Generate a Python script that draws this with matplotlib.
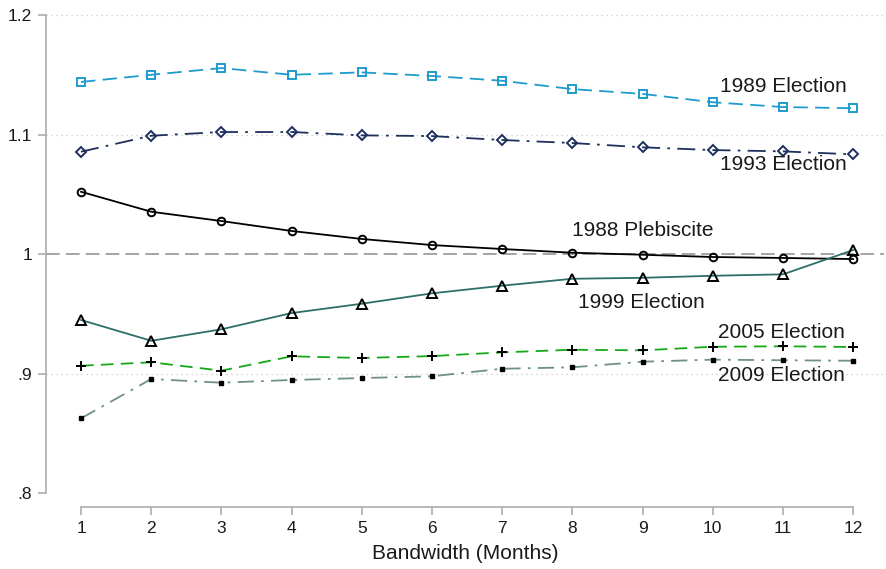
import numpy as np
from matplotlib import pyplot as plt

plt.rcParams['font.family'] = ['Liberation Sans', 'DejaVu Sans']

bandwidth = list(range(1, 13))

e1989 = [1.144, 1.150, 1.1556, 1.150, 1.152, 1.149, 1.145, 1.138, 1.134, 1.127, 1.123, 1.122]
e1993 = [1.0856, 1.0990, 1.1021, 1.1021, 1.0993, 1.0987, 1.0954, 1.0929, 1.0893, 1.0870, 1.0859, 1.0834]
p1988 = [1.0521, 1.0354, 1.0276, 1.0193, 1.0126, 1.0075, 1.0042, 1.0011, 0.9994, 0.9975, 0.9967, 0.9958]
e1999 = [0.9448, 0.9274, 0.9370, 0.9506, 0.9584, 0.9671, 0.9735, 0.9793, 0.9801, 0.9818, 0.9830, 1.0033]
e2005 = [0.9065, 0.9094, 0.9024, 0.9144, 0.9130, 0.9146, 0.9177, 0.9199, 0.9194, 0.9224, 0.9228, 0.9222]
e2009 = [0.8625, 0.8954, 0.8923, 0.8946, 0.8962, 0.8977, 0.9040, 0.9052, 0.9099, 0.9116, 0.9111, 0.9107]

yticks = [0.8, 0.9, 1.0, 1.1, 1.2]
yticklabels = ['.8', '.9', '1', '1.1', '1.2']

fig = plt.figure(figsize=(8.86, 5.69), dpi=100)
ax = fig.add_axes([46/886, 62/569, 838/886, 494/569])

# grid lines
for yv in [0.9, 1.1, 1.2]:
    ax.axhline(yv, color='#c8c8c8', lw=0.9, ls=(0, (1, 3)), zorder=0)
ax.axhline(1.0, color='#8c8c8c', lw=1.1, ls=(0, (9, 4)), zorder=0)

lw = 1.3
ax.plot(bandwidth, e1989, color='#1f9bcc', lw=lw, ls=(0, (8, 4)),
        marker='s', ms=5.5, mfc='none', mec='#1f9bcc', mew=1.4)
ax.plot(bandwidth, e1993, color='#1e2f5e', lw=lw, ls=(0, (10, 4, 1.5, 4)),
        marker='D', ms=5.5, mfc='none', mec='#1e2f5e', mew=1.4)
ax.plot(bandwidth, p1988, color='black', lw=lw, ls='-',
        marker='o', ms=5.5, mfc='none', mec='black', mew=1.4)
ax.plot(bandwidth, e1999, color='#2e6f69', lw=lw, ls='-',
        marker='^', ms=6.5, mfc='none', mec='black', mew=1.4)
ax.plot(bandwidth, e2005, color='#16a816', lw=lw, ls=(0, (7, 4)),
        marker='+', ms=6.5, mec='black', mew=1.4)
ax.plot(bandwidth, e2009, color='#6e8f8b', lw=lw, ls=(0, (9, 4, 1.5, 4)),
        marker='s', ms=2.5, mfc='black', mec='black')

tkw = dict(fontsize=15, color='#1a1a1a', va='center')
ax.text(10.10, 1.1406, '1989 Election', **tkw)
ax.text(10.10, 1.0753, '1993 Election', **tkw)
ax.text(8.00, 1.0201, '1988 Plebiscite', **tkw)
ax.text(8.08, 0.9598, '1999 Election', **tkw)
ax.text(10.08, 0.9347, '2005 Election', **tkw)
ax.text(10.08, 0.8987, '2009 Election', **tkw)

ax.set_xlim(0.501, 12.44)
ax.set_ylim(0.7883, 1.2017)
ax.set_xticks(bandwidth)
ax.set_yticks(yticks)
ax.set_yticklabels(yticklabels)

for s in ['top', 'right']:
    ax.spines[s].set_visible(False)
ax.spines['left'].set_bounds(0.8, 1.2)
ax.spines['bottom'].set_bounds(1, 12)
for s in ['left', 'bottom']:
    ax.spines[s].set_color('#a6a6a6')
    ax.spines[s].set_linewidth(1.1)

ax.tick_params(axis='both', colors='#a6a6a6', labelcolor='#1a1a1a',
               labelsize=12.5, length=6, width=1.1, pad=4)
ax.set_xlabel('Bandwidth (Months)', fontsize=15, color='#1a1a1a', labelpad=6)

plt.savefig('out.png', dpi=100)
